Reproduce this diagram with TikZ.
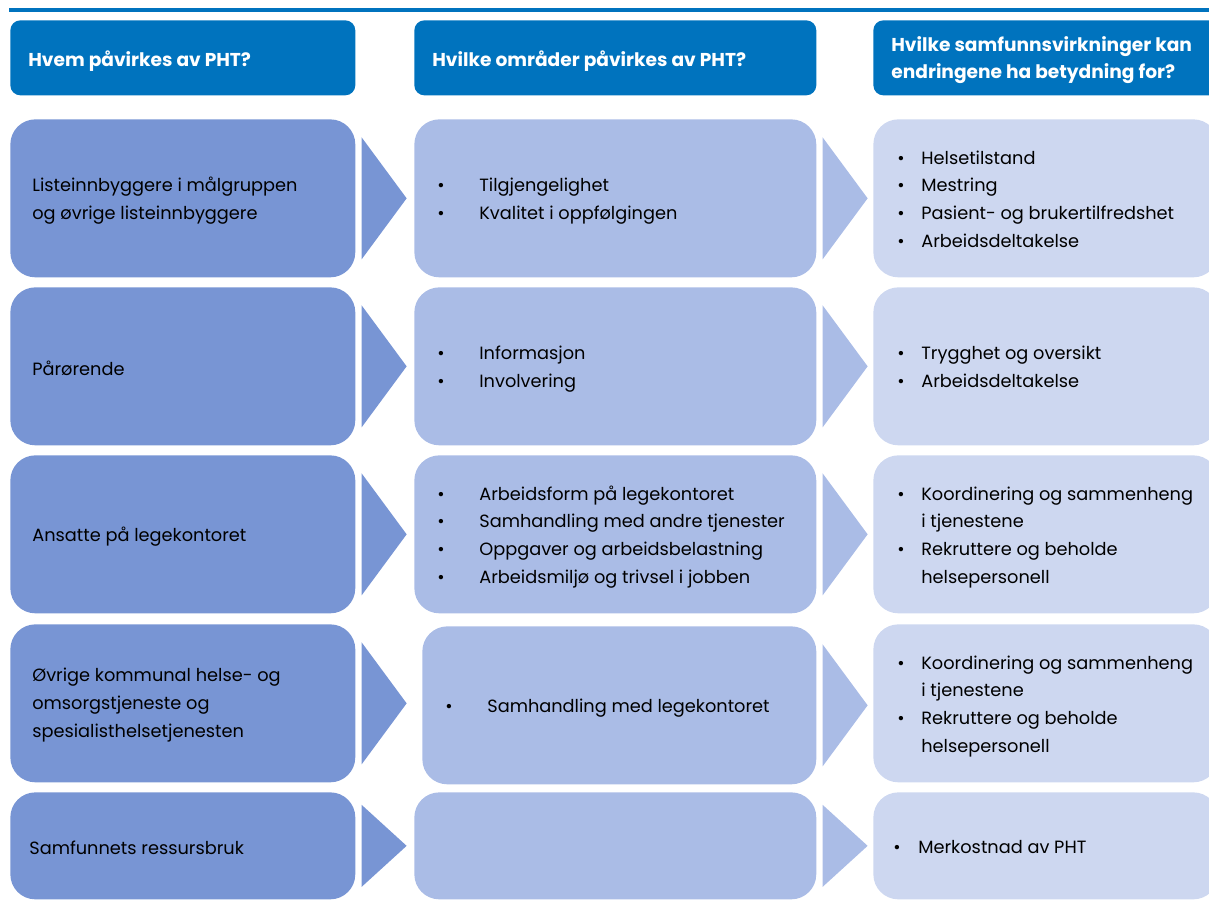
\documentclass[tikz,border=0pt]{standalone}
\usepackage{fontspec}
\setmainfont{Poppins}
\usetikzlibrary{calc}
\definecolor{hdrblue}{RGB}{0,115,190}
\definecolor{colA}{RGB}{120,149,212}
\definecolor{colB}{RGB}{170,188,230}
\definecolor{colC}{RGB}{205,215,240}
\newcommand{\bodyfont}{\fontsize{10.1}{15.9}\selectfont}
\newcommand{\hdrfont}{\fontsize{10.6}{15.3}\selectfont\bfseries}
\newcommand{\pts}[2]{\begin{tabular}{@{}p{#1}@{}l@{}}#2\end{tabular}}
\def\chevron(#1)(#2:#3){\fill[#2] ($(#1.east)+(6,-#3)$) -- ($(#1.east)+(51,0)$) -- ($(#1.east)+(6,#3)$) -- cycle;}
\tikzset{
  box/.style={anchor=north west, inner sep=0, rounded corners=0.5cm},
  hdr/.style={box, fill=hdrblue, rounded corners=0.2cm, minimum height=1.5cm},
  who/.style={box, fill=colA, minimum width=6.9cm},
  what/.style={box, fill=colB, minimum width=8.04cm},
  effect/.style={box, fill=colC, minimum width=6.9cm},
  tall/.style={minimum height=3.16cm},
  low/.style={minimum height=2.14cm},
  txt/.style={anchor=west, inner sep=0, align=left, font=\bodyfont, yshift=-0.04cm},
  hdrtxt/.style={anchor=west, inner sep=0, align=left, font=\hdrfont, text=white}
}

\begin{document}
\begin{tikzpicture}[x=0.02cm, y=-0.02cm]
	%%%%% START %%%%%
	\clip (0,0) rectangle (1209,906);
	\fill[hdrblue] (9,8) rectangle (1209,11.5);
	
	% headers
	\node[hdr, minimum width=6.9cm] (h1) at (10,20) {};
	\node[hdr, minimum width=8.04cm] (h2) at (414,20) {};
	\node[hdr, minimum width=7.2cm] (h3) at (873,20) {};
	\node[hdrtxt] (h1t) at ([xshift=0.36cm, yshift=-0.06cm]h1.west) {Hvem påvirkes av PHT?};
	\node[hdrtxt] (h2t) at ([xshift=0.36cm, yshift=-0.06cm]h2.west) {Hvilke områder påvirkes av PHT?};
	\node[hdrtxt] (h3t) at ([xshift=0.36cm, yshift=-0.05cm]h3.west) {Hvilke samfunnsvirkninger kan\\endringene ha betydning for?};
	
	% column 1
	\node[who, tall] (w1) at (10,119) {};
	\node[who, tall] (w2) at (10,287) {};
	\node[who, tall] (w3) at (10,455) {};
	\node[who, tall] (w4) at (10,624) {};
	\node[who, low] (w5) at (10,792) {};
	
	% column 2
	\node[what, tall] (m1) at (414,119) {};
	\node[what, tall] (m2) at (414,287) {};
	\node[what, tall] (m3) at (414,455) {};
	\node[what, tall, minimum width=7.88cm] (m4) at (422,626) {};
	\node[what, low] (m5) at (414,792) {};
	
	% column 3
	\node[effect, tall] (e1) at (873,119) {};
	\node[effect, tall] (e2) at (873,287) {};
	\node[effect, tall] (e3) at (873,455) {};
	\node[effect, tall] (e4) at (873,624) {};
	\node[effect, low] (e5) at (873,792) {};
	
	% chevrons
	\chevron(w1)(colA:61)
	\chevron(w2)(colA:61)
	\chevron(w3)(colA:61)
	\chevron(w4)(colA:61)
	\chevron(w5)(colA:41)
	\chevron(m1)(colB:61)
	\chevron(m2)(colB:61)
	\chevron(m3)(colB:61)
	\chevron(m4)(colB:61)
	\chevron(m5)(colB:41)
	
	% texts
	\node[txt] (w1t) at ([xshift=0.44cm]w1.west) {Listeinnbyggere i målgruppen\\og øvrige listeinnbyggere};
	\node[txt] (w2t) at ([xshift=0.44cm]w2.west) {Pårørende};
	\node[txt] (w3t) at ([xshift=0.44cm]w3.west) {Ansatte på legekontoret};
	\node[txt] (w4t) at ([xshift=0.44cm]w4.west) {Øvrige kommunal helse- og\\omsorgstjeneste og\\spesialisthelsetjenesten};
	\node[txt] (w5t) at ([xshift=0.38cm]w5.west) {Samfunnets ressursbruk};
	
	\node[txt] (m1t) at ([xshift=0.46cm]m1.west) {\pts{0.84cm}{\textbullet & Tilgjengelighet\\ \textbullet & Kvalitet i oppfølgingen}};
	\node[txt] (m2t) at ([xshift=0.46cm]m2.west) {\pts{0.84cm}{\textbullet & Informasjon\\ \textbullet & Involvering}};
	\node[txt] (m3t) at ([xshift=0.46cm]m3.west) {\pts{0.84cm}{\textbullet & Arbeidsform på legekontoret\\ \textbullet & Samhandling med andre tjenester\\ \textbullet & Oppgaver og arbeidsbelastning\\ \textbullet & Arbeidsmiljø og trivsel i jobben}};
	\node[txt] (m4t) at ([xshift=0.46cm]m4.west) {\pts{0.84cm}{\textbullet & Samhandling med legekontoret}};
	
	\node[txt] (e1t) at ([xshift=0.48cm]e1.west) {\pts{0.48cm}{\textbullet & Helsetilstand\\ \textbullet & Mestring\\ \textbullet & Pasient- og brukertilfredshet\\ \textbullet & Arbeidsdeltakelse}};
	\node[txt] (e2t) at ([xshift=0.48cm]e2.west) {\pts{0.48cm}{\textbullet & Trygghet og oversikt\\ \textbullet & Arbeidsdeltakelse}};
	\node[txt] (e3t) at ([xshift=0.48cm]e3.west) {\pts{0.48cm}{\textbullet & Koordinering og sammenheng\\ & i tjenestene\\ \textbullet & Rekruttere og beholde\\ & helsepersonell}};
	\node[txt] (e4t) at ([xshift=0.48cm]e4.west) {\pts{0.48cm}{\textbullet & Koordinering og sammenheng\\ & i tjenestene\\ \textbullet & Rekruttere og beholde\\ & helsepersonell}};
	\node[txt] (e5t) at ([xshift=0.4cm]e5.west) {\pts{0.5cm}{\textbullet & Merkostnad av PHT}};
	%%%%% END %%%%%
\end{tikzpicture}
\end{document}
